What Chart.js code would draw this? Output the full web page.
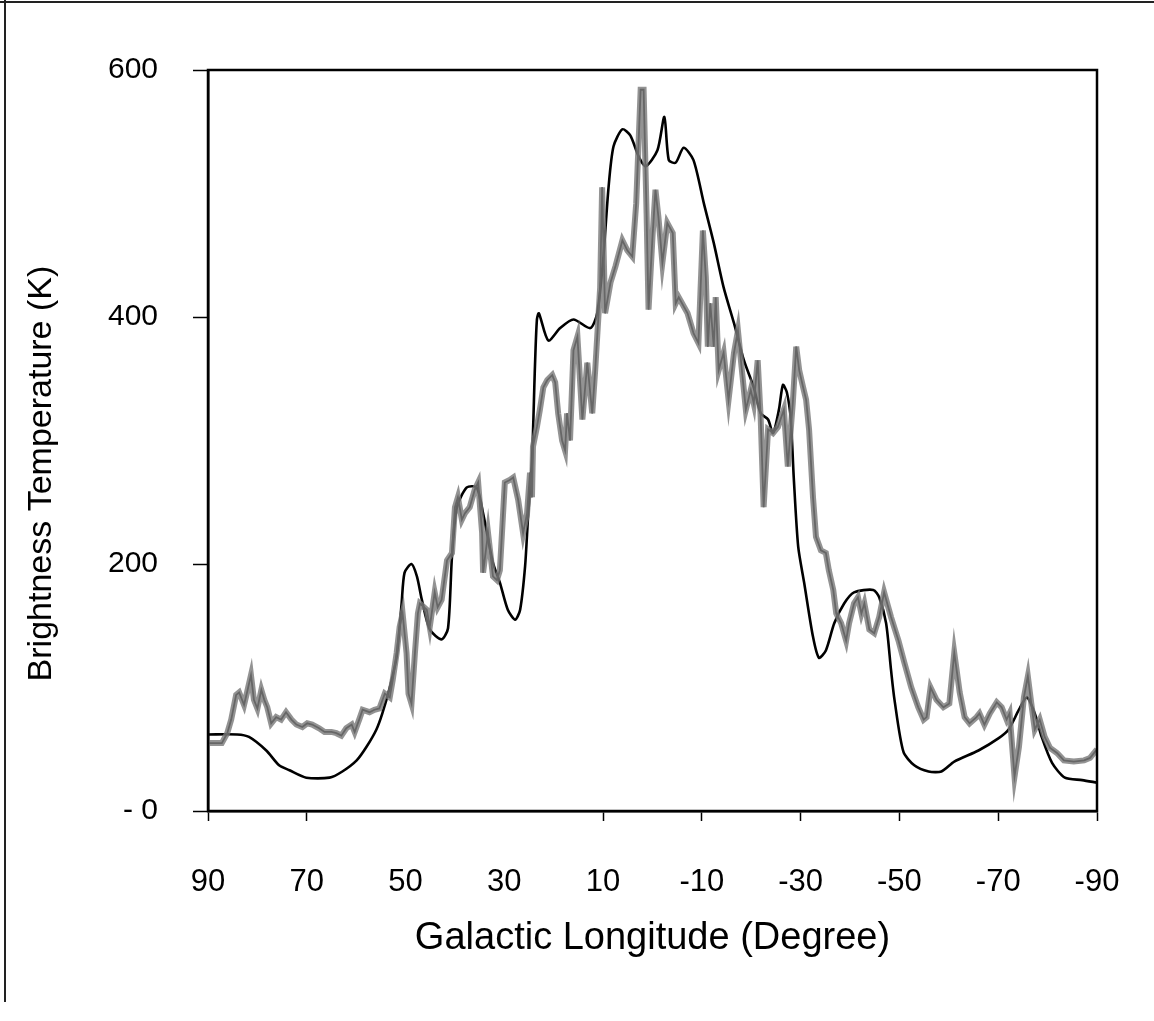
<!DOCTYPE html>
<html>
<head>
<meta charset="utf-8">
<title>Brightness Temperature vs Galactic Longitude</title>
<script src="https://cdn.jsdelivr.net/npm/chart.js@4.4.1/dist/chart.umd.min.js"></script>
<style>
	html, body { margin: 0; padding: 0; background: #fff; }
	#wrap { position: relative; width: 1154px; height: 1021px; }
	.edge { position: absolute; background: #222; }
	.edge-top { left: 0; top: 1px; width: 1154px; height: 2px; }
	.edge-left { left: 4px; top: 0; width: 2px; height: 1002px; }
</style>
</head>
<body>
<div id="wrap">
	<canvas id="chart" width="1154" height="1021"></canvas>
	<div class="edge edge-top"></div>
	<div class="edge edge-left"></div>
</div>
<script>
( function () {
	'use strict';

	// tick positions and labels
	var lonTicks = [ 90, 70, 50, 30, 10, -10, -30, -50, -70, -90 ];
	var tempTicks = [ 0, 200, 400, 600 ];
	var tempTickLabels = [ '- 0', '200', '400', '600' ];

	// smooth curve (black)
	var smoothLon = [ 90, 84.1, 81.7, 78.2, 75.6, 73.5, 70.1, 65.4, 62.8, 59.9, 57.9, 55.9, 54.7, 53.2, 51.8, 50.8, 50.2, 48.8, 47.7, 46.7,
		45.1, 42.7, 41.4, 40.6, 39.6, 37.6, 35.6, 34.3, 32.3, 30.9, 29.3, 27.8, 26.8, 25.8, 25.2, 24.4, 23.8, 23.4, 23.0, 21.1,
		18.7, 16.0, 12.6, 11.2, 10.0, 8.9, 7.9, 6.1, 4.5, 2.8, 1.4, -1.0, -2.4, -3.3, -4.7, -6.3, -8.3, -10.4, -12.4, -14.4,
		-16.5, -18.5, -20.5, -21.9, -23.4, -24.4, -25.6, -26.4, -27.2, -28.0, -28.6, -29.5, -30.7, -32.5, -33.7, -35.1, -36.8, -38.8, -40.8, -44.7,
		-45.9, -47.3, -48.3, -49.0, -50.8, -53.0, -55.9, -58.5, -61.1, -66.0, -70.1, -72.1, -74.2, -75.8, -77.4, -78.8, -80.9, -83.5, -87.0, -90 ];
	var smoothTemp = [ 62, 62, 60, 49, 37, 33, 27, 27, 32, 41, 52, 66, 79, 100, 125, 168, 193, 200, 190, 171,
		147, 139, 148, 206, 246, 262, 262, 241, 201, 185, 163, 155, 163, 198, 238, 284, 360, 398, 403, 381,
		391, 398, 391, 403, 446, 505, 538, 552, 547, 530, 522, 535, 562, 527, 525, 537, 527, 492, 460, 424,
		395, 365, 343, 322, 317, 306, 325, 345, 339, 317, 270, 214, 185, 141, 124, 130, 152, 168, 177, 179,
		173, 152, 114, 90, 48, 37, 32, 32, 40, 49, 59, 66, 82, 92, 79, 60, 39, 27, 25, 23 ];

	// observed profile (grey, noisy)
	var obsLon = [ 90, 87.2, 86.1, 85.3, 84.3, 83.7, 82.7, 82.1, 81.3, 80.7, 80.0, 79.2, 78.6, 78.0, 77.2, 76.2, 75.2, 74.2, 73.1, 72.1,
		70.9, 69.9, 68.9, 67.5, 66.4, 65.0, 64.0, 63.0, 62.0, 60.9, 60.3, 59.3, 58.7, 57.3, 56.3, 55.3, 54.2, 53.2, 52.6, 51.8,
		51.2, 50.6, 49.8, 49.4, 48.8, 48.1, 47.5, 47.1, 45.7, 45.1, 44.1, 43.5, 42.7, 41.6, 40.6, 40.0, 39.4, 38.6, 38.0, 37.0,
		36.0, 35.3, 34.5, 34.3, 33.3, 32.3, 31.5, 30.9, 29.9, 28.9, 28.2, 27.2, 26.2, 25.4, 24.8, 24.4, 24.2, 23.4, 22.8, 22.1,
		21.3, 20.3, 19.7, 19.1, 18.3, 17.7, 17.3, 16.7, 16.0, 15.2, 14.2, 13.2, 12.2, 11.6, 10.6, 10.2, 9.6, 8.5, 7.5, 6.1,
		5.1, 4.1, 3.3, 2.4, 1.8, 1.2, 0.8, 0.0, -0.6, -1.2, -2.0, -3.0, -4.1, -4.7, -5.3, -7.1, -8.3, -9.3, -10.2, -10.8,
		-11.2, -11.7, -12.4, -12.8, -13.4, -14.4, -15.4, -16.5, -17.3, -18.3, -18.9, -19.9, -20.5, -21.3, -21.9, -22.5, -23.4, -24.4, -25.4, -26.6,
		-27.4, -28.4, -29.1, -29.7, -30.5, -31.1, -31.7, -32.5, -33.1, -34.1, -35.1, -35.7, -36.6, -37.2, -38.2, -39.2, -39.8, -40.8, -41.6, -42.3,
		-42.9, -43.9, -44.9, -45.9, -46.9, -48.3, -49.8, -51.0, -52.4, -53.8, -54.9, -55.5, -56.3, -57.5, -58.9, -60.1, -61.1, -62.2, -63.2, -64.2,
		-65.6, -66.2, -67.2, -68.3, -69.7, -70.7, -71.7, -72.3, -73.3, -74.2, -75.2, -76.0, -76.8, -77.4, -78.4, -79.4, -80.5, -81.9, -83.3, -85.3,
		-87.4, -88.6, -90 ];
	var obsTemp = [ 55, 55, 63, 74, 94, 96, 86, 96, 110, 90, 83, 98, 90, 84, 71, 76, 74, 80, 74, 70,
		68, 71, 70, 67, 64, 64, 63, 61, 67, 70, 64, 75, 82, 80, 82, 83, 95, 92, 106, 128,
		149, 160, 128, 95, 87, 128, 160, 168, 163, 149, 177, 165, 171, 203, 209, 246, 254, 236, 241, 246,
		260, 266, 225, 193, 225, 190, 187, 195, 266, 268, 270, 252, 225, 241, 274, 254, 295, 311, 325, 343,
		349, 353, 347, 322, 300, 292, 322, 300, 373, 384, 317, 363, 322, 357, 424, 505, 403, 428, 441, 462,
		454, 449, 492, 584, 584, 484, 406, 465, 503, 481, 444, 476, 468, 411, 416, 403, 387, 379, 470, 432,
		376, 411, 376, 416, 357, 371, 333, 371, 389, 349, 325, 341, 330, 365, 319, 246, 309, 306, 311, 325,
		279, 330, 376, 357, 343, 333, 309, 254, 222, 211, 209, 195, 179, 160, 152, 138, 152, 168, 173, 160,
		168, 147, 144, 157, 177, 157, 138, 120, 100, 84, 74, 76, 100, 90, 84, 87, 128, 96, 76, 71,
		76, 79, 70, 79, 88, 84, 74, 79, 28, 52, 92, 109, 84, 66, 74, 60, 51, 47, 41, 40,
		41, 43, 50 ];

	function toPoints( xs, ys ) {
		return xs.map( function ( x, i ) {
			return { x: x, y: ys[ i ] };
		} );
	}

	var fontFamily = "'Liberation Sans', Arial, Helvetica, sans-serif";
	// trailing spaces push the rotated title down, as in the scan
	var yTitle = 'Brightness Temperature (K)' + '\u00a0\u00a0\u00a0\u00a0\u00a0\u00a0\u00a0';

	var plotFrame = {
		id: 'plotFrame',
		afterDraw: function ( chart ) {
			var a = chart.chartArea;
			var ctx = chart.ctx;
			ctx.save();
			ctx.strokeStyle = '#000';
			ctx.lineWidth = 2.5;
			ctx.strokeRect( a.left, a.top, a.right - a.left, a.bottom - a.top );
			ctx.restore();
		},
	};

	new Chart( document.getElementById( 'chart' ), {
		type: 'line',
		data: {
			datasets: [
				{
					data: toPoints( obsLon, obsTemp ),
					borderColor: 'rgba(120, 120, 120, 0.8)',
					borderWidth: 6,
					pointRadius: 0,
					tension: 0,
				},
				{
					data: toPoints( obsLon, obsTemp ),
					borderColor: '#222',
					borderWidth: 1.8,
					pointRadius: 0,
					tension: 0,
				},
				{
					data: toPoints( smoothLon, smoothTemp ),
					borderColor: '#000',
					borderWidth: 2.6,
					pointRadius: 0,
					tension: 0.25,
				},
			],
		},
		options: {
			responsive: false,
			animation: false,
			devicePixelRatio: 1,
			layout: {
				padding: { top: 70, right: 57, bottom: 0, left: 0 },
			},
			plugins: {
				legend: { display: false },
				tooltip: { enabled: false },
			},
			scales: {
				x: {
					type: 'linear',
					min: -90,
					max: 90,
					reverse: true,
					afterBuildTicks: function ( scale ) {
						scale.ticks = lonTicks.map( function ( v ) {
							return { value: v };
						} );
					},
					afterFit: function ( scale ) {
						scale.height = 210;
						scale.paddingLeft = 0;
						scale.paddingRight = 0;
					},
					border: { color: '#000', width: 2.5 },
					grid: {
						drawOnChartArea: false,
						tickLength: 10,
						tickWidth: 1.5,
						tickColor: function ( ctx ) {
							var v = ctx.tick && ctx.tick.value;
							return ( v === 50 || v === 30 ) ? 'rgba(0,0,0,0)' : '#000';
						},
					},
					ticks: {
						color: '#000',
						autoSkip: false,
						maxRotation: 0,
						padding: 43,
						font: { family: fontFamily, size: 31 },
					},
					title: {
						display: true,
						text: 'Galactic Longitude (Degree)',
						color: '#000',
						font: { family: fontFamily, size: 38 },
						padding: { top: 0, bottom: 60 },
					},
				},
				y: {
					min: 0,
					max: 600,
					afterBuildTicks: function ( scale ) {
						scale.ticks = tempTicks.map( function ( v ) {
							return { value: v };
						} );
					},
					afterFit: function ( scale ) {
						scale.width = 208;
						scale.paddingTop = 0;
						scale.paddingBottom = 0;
					},
					border: { color: '#000', width: 2.5 },
					grid: {
						drawOnChartArea: false,
						tickLength: 15,
						tickWidth: 1.5,
						tickColor: '#000',
					},
					ticks: {
						color: '#000',
						padding: 35,
						font: { family: fontFamily, size: 30 },
						callback: function ( value ) {
							var i = tempTicks.indexOf( value );
							return i >= 0 ? tempTickLabels[ i ] : '';
						},
					},
					title: {
						display: true,
						text: yTitle,
						color: '#000',
						font: { family: fontFamily, size: 34 },
						padding: { top: 21, bottom: 0 },
					},
				},
			},
		},
		plugins: [ plotFrame ],
	} );
} )();
</script>
</body>
</html>
